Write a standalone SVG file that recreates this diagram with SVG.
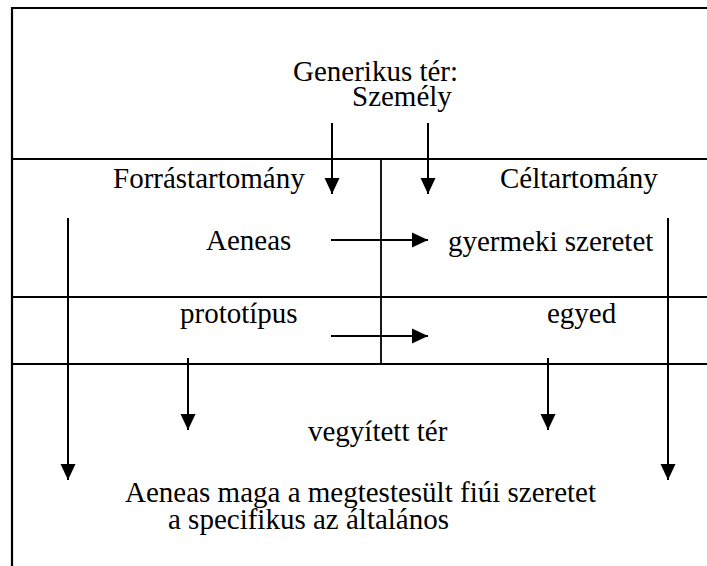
<svg xmlns="http://www.w3.org/2000/svg" width="707" height="566" viewBox="0 0 707 566">
<defs>
<style>
text{font-family:'Liberation Serif','Times New Roman',serif;font-size:29px;fill:#000}
.frame{stroke:#000;stroke-width:2.2;fill:none}
.grid{stroke:#000;stroke-width:1.8;fill:none}
.arr{stroke:#000;stroke-width:2;fill:none;marker-end:url(#ah)}
</style>
<marker id="ah" markerUnits="userSpaceOnUse" markerWidth="17" markerHeight="16" refX="16" refY="8" orient="auto">
<path d="M0,0.5 L16,8 L0,15.5 z" fill="#000"/>
</marker>
</defs>
<rect width="707" height="566" fill="#fff"/>
<g id="frame">
<path class="frame" d="M12,566 L12,8 L707,8"/>
<path class="grid" d="M12,159 H707 M12,297 H707 M12,364 H707 M381,159 V364"/>
</g>
<g id="generic">
<text x="293" y="81">Generikus tér:</text>
<text x="352" y="106">Személy</text>
</g>
<g id="source">
<text x="113" y="188">Forrástartomány</text>
<text x="206" y="250">Aeneas</text>
<text x="180" y="323">prototípus</text>
</g>
<g id="target">
<text x="500" y="188">Céltartomány</text>
<text x="448" y="251">gyermeki szeretet</text>
<text x="547" y="323">egyed</text>
</g>
<g id="blend">
<text x="308" y="441">vegyített tér</text>
<text x="125" y="502">Aeneas maga a megtestesült fiúi szeretet</text>
<text x="168" y="529">a specifikus az általános</text>
</g>
<g id="connectors">
<line class="arr" x1="332" y1="123" x2="332" y2="194"/>
<line class="arr" x1="428" y1="123" x2="428" y2="194"/>
<line class="arr" x1="331" y1="240" x2="428" y2="240"/>
<line class="arr" x1="331" y1="336" x2="428" y2="336"/>
<line class="arr" x1="68" y1="218" x2="68" y2="480"/>
<line class="arr" x1="668" y1="218" x2="668" y2="480"/>
<line class="arr" x1="188" y1="358" x2="188" y2="430"/>
<line class="arr" x1="548" y1="358" x2="548" y2="430"/>
</g>
</svg>
